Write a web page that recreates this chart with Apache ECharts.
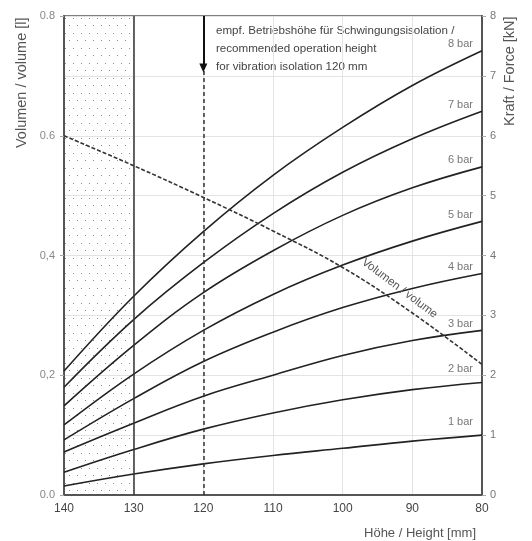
<!DOCTYPE html>
<html>
<head>
<meta charset="utf-8">
<script src="https://cdn.jsdelivr.net/npm/echarts@6/dist/echarts.min.js"></script>
<style>
  html, body { margin: 0; padding: 0; background: #fff; }
  #chart { width: 532px; height: 541px; }
</style>
</head>
<body>
<div id="chart"></div>
<script>
// Höhe in mm (x-Achse, umgekehrt)
var heights = [140, 130, 120, 110, 100, 90, 80];

// Kraft in kN je Druck
var bar1 = [0.15, 0.35, 0.52, 0.66, 0.78, 0.90, 1.00];
var bar2 = [0.38, 0.76, 1.10, 1.37, 1.59, 1.76, 1.88];
var bar3 = [0.72, 1.20, 1.65, 2.00, 2.33, 2.58, 2.75];
var bar4 = [0.92, 1.61, 2.23, 2.72, 3.13, 3.45, 3.70];
var bar5 = [1.17, 2.02, 2.75, 3.35, 3.84, 4.24, 4.57];
var bar6 = [1.49, 2.50, 3.38, 4.08, 4.67, 5.13, 5.48];
var bar7 = [1.80, 2.93, 3.88, 4.70, 5.39, 5.95, 6.41];
var bar8 = [2.07, 3.32, 4.40, 5.34, 6.14, 6.84, 7.42];
var forceSeries = [bar1, bar2, bar3, bar4, bar5, bar6, bar7, bar8];
var barNames = ['1 bar', '2 bar', '3 bar', '4 bar', '5 bar', '6 bar', '7 bar', '8 bar'];

// Volumen in l
var volume = [0.600, 0.550, 0.497, 0.441, 0.380, 0.304, 0.218];

// Beschriftung linke Achse wie im Original
var volumeTicks = { '0': '0.0', '0.2': '0,2', '0.4': '0,4', '0.6': '0.6', '0.8': '0.8' };

var FONT = 'Liberation Sans, Arial, sans-serif';

// Punktraster fuer den Bereich 140-130
var pat = document.createElement('canvas');
pat.width = 8;
pat.height = 15;
var pctx = pat.getContext('2d');
pctx.fillStyle = '#8c8c8c';
pctx.fillRect(1, 3, 1, 1);
pctx.fillRect(5, 10, 1, 1);

var chart = echarts.init(document.getElementById('chart'));

var series = [];
for (var i = 0; i < forceSeries.length; i++) {
    var d = [];
    for (var j = 0; j < heights.length; j++) {
        var item = { value: [heights[j], forceSeries[i][j]] };
        if (j == heights.length - 1) {
            // 1 und 2 bar stehen etwas hoeher
            var dy = i < 2 ? -8 : -1;
            item.label = {
                show: true,
                formatter: barNames[i],
                position: 'insideBottomRight',
                distance: 0,
                offset: [-9, dy],
                color: '#777',
                fontSize: 11,
                fontFamily: FONT
            };
        }
        d.push(item);
    }
    series.push({
        name: barNames[i],
        type: 'line',
        yAxisIndex: 1,
        smooth: 0.4,
        symbol: 'circle',
        symbolSize: 0,
        lineStyle: { color: '#222', width: 1.6 },
        itemStyle: { color: '#222' },
        silent: true,
        z: 3,
        data: d
    });
}

var vd = [];
for (var k = 0; k < heights.length; k++) {
    var it = { value: [heights[k], volume[k]] };
    if (heights[k] == 90) {
        it.label = {
            show: true,
            formatter: 'Volumen / volume',
            position: 'inside',
            rotate: -37,
            offset: [-25, -12],
            color: '#555',
            fontSize: 11.5,
            fontFamily: FONT
        };
    }
    vd.push(it);
}

series.push({
    name: 'Volumen',
    type: 'line',
    yAxisIndex: 0,
    smooth: 0.4,
    symbol: 'circle',
    symbolSize: 0,
    lineStyle: { color: '#333', width: 1.6, type: [4, 2] },
    itemStyle: { color: '#333' },
    silent: true,
    z: 3,
    data: vd,
    markArea: {
        silent: true,
        itemStyle: { color: { image: pat, repeat: 'repeat' } },
        data: [[{ xAxis: 140 }, { xAxis: 130 }]]
    },
    markLine: {
        silent: true,
        symbol: 'none',
        label: { show: false },
        data: [
            [{ coord: [130, 0], lineStyle: { color: '#333', width: 1.5, type: 'solid' } },
             { coord: [130, 0.8] }],
            [{ coord: [120, 0], lineStyle: { color: '#333', width: 1.5, type: [4, 3] } },
             { coord: [120, 0.708] }],
            [{ coord: [120, 0.8], symbol: 'none', lineStyle: { color: '#111', width: 2, type: 'solid' } },
             { coord: [120, 0.713], symbol: 'triangle', symbolSize: [8, 9], symbolRotate: 180 }]
        ]
    }
});

var option = {
    animation: false,
    backgroundColor: '#fff',
    grid: {
        left: 64, right: 50, top: 16, bottom: 46,
        show: true, borderColor: '#555', borderWidth: 1.5
    },
    xAxis: {
        type: 'value',
        min: 80, max: 140, interval: 10,
        inverse: true,
        axisLine: { show: true, lineStyle: { color: '#555', width: 2 } },
        axisTick: { show: false },
        axisLabel: { color: '#444', fontSize: 12, fontFamily: FONT, margin: 8 },
        splitLine: { show: true, lineStyle: { color: '#e3e3e3', width: 1 } }
    },
    yAxis: [
        {
            type: 'value',
            min: 0, max: 0.8, interval: 0.2,
            position: 'left',
            axisLine: { show: true, lineStyle: { color: '#555', width: 2 } },
            axisTick: { show: true, inside: false, length: 4, lineStyle: { color: '#aaa' } },
            axisLabel: {
                color: '#888', fontSize: 11, fontFamily: FONT, margin: 9,
                formatter: function (v) {
                    var key = String(Math.round(v * 10) / 10);
                    return volumeTicks[key] || '';
                }
            },
            splitLine: { show: false }
        },
        {
            type: 'value',
            min: 0, max: 8, interval: 1,
            position: 'right',
            axisLine: { show: true, lineStyle: { color: '#555', width: 2 } },
            axisTick: { show: true, inside: false, length: 4, lineStyle: { color: '#aaa' } },
            axisLabel: { color: '#777', fontSize: 11, fontFamily: FONT, margin: 8 },
            splitLine: { show: true, lineStyle: { color: '#e3e3e3', width: 1 } }
        }
    ],
    graphic: [
        {
            type: 'text', x: 22, y: 148, rotation: Math.PI / 2,
            style: { text: 'Volumen / volume [l]', fill: '#555', font: '14.5px ' + FONT,
                     textAlign: 'left', textVerticalAlign: 'middle' }
        },
        {
            type: 'text', x: 510, y: 126, rotation: Math.PI / 2,
            style: { text: 'Kraft / Force [kN]', fill: '#555', font: '14.5px ' + FONT,
                     textAlign: 'left', textVerticalAlign: 'middle' }
        },
        {
            type: 'text', x: 476, y: 533,
            style: { text: 'Höhe / Height [mm]', fill: '#555', font: '13px ' + FONT,
                     textAlign: 'right', textVerticalAlign: 'middle' }
        },
        {
            type: 'text', x: 216, y: 22,
            style: {
                text: 'empf. Betriebshöhe für Schwingungsisolation /\nrecommended operation height\nfor vibration isolation 120 mm',
                fill: '#444', font: '11.6px ' + FONT, lineHeight: 18,
                textAlign: 'left', textVerticalAlign: 'top'
            }
        }
    ],
    series: series
};

chart.setOption(option);
</script>
</body>
</html>
